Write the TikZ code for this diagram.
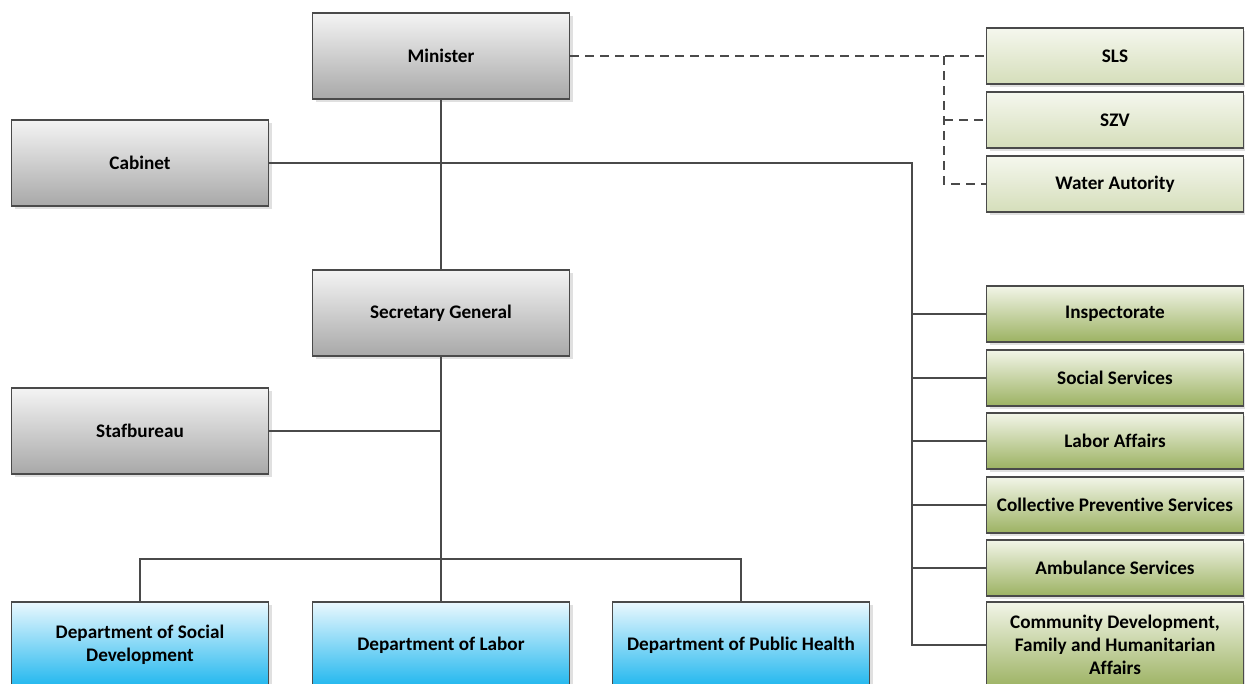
\documentclass[tikz,border=0pt]{standalone}
\usepackage{fontspec}
\setmainfont{Carlito}[Ligatures=NoCommon]
\usepackage{tikz}
\usetikzlibrary{shadows}
\definecolor{linegray}{HTML}{4A4A4A}
\definecolor{greytop}{HTML}{F4F4F4}
\definecolor{greybot}{HTML}{A8A8A8}
\definecolor{bluetop}{HTML}{EAF8FE}
\definecolor{bluebot}{HTML}{1EB6EE}
\definecolor{greentop}{HTML}{F2F5E8}
\definecolor{greenbot}{HTML}{9CB262}
\definecolor{palegreentop}{HTML}{F5F7EE}
\definecolor{palegreenbot}{HTML}{D5DEBA}

\begin{document}
\begin{tikzpicture}[x=1pt, y=-1pt,
    box/.style={draw=linegray, line width=1.3pt, minimum width=257pt, minimum height=86pt,
      align=center, font=\fontsize{19.2}{23}\selectfont\bfseries, inner sep=2pt,
      drop shadow={shadow xshift=3pt, shadow yshift=-3pt, fill=black!12, opacity=1}},
    greybox/.style={box, top color=greytop, bottom color=greybot},
    bluebox/.style={box, top color=bluetop, bottom color=bluebot},
    greenbox/.style={box, minimum height=56pt, top color=greentop, bottom color=greenbot},
    palebox/.style={box, minimum height=56pt, top color=palegreentop, bottom color=palegreenbot},
    conn/.style={draw=linegray, line width=1.3pt},
    dline/.style={conn, dash pattern=on 9pt off 6pt}]

    \path[use as bounding box, clip] (0,0) rectangle (1245,683);
    \fill[white] (0,0) rectangle (1245,683);

    \node[greybox] (min) at (441, 56) {Minister};
    \node[greybox] (cab) at (140, 163) {Cabinet};
    \node[greybox] (sg) at (441, 313) {Secretary General};
    \node[greybox] (staf) at (140, 431) {Stafbureau};

    \node[bluebox] (dsd) at (140, 645) {Department of Social\\Development};
    \node[bluebox] (dl) at (441, 645) {Department of Labor};
    \node[bluebox] (dph) at (741, 645) {Department of Public Health};

    \node[palebox] (sls) at (1115, 56) {SLS};
    \node[palebox] (szv) at (1115, 120) {SZV};
    \node[palebox] (wa) at (1115, 184) {Water Autority};

    \node[greenbox] (insp) at (1115, 314) {Inspectorate};
    \node[greenbox] (soc) at (1115, 378) {Social Services};
    \node[greenbox] (lab) at (1115, 441) {Labor Affairs};
    \node[greenbox] (cps) at (1115, 505) {Collective Preventive Services};
    \node[greenbox] (amb) at (1115, 568) {Ambulance Services};
    \node[greenbox, minimum height=86pt] (cdf) at (1115, 645) {Community Development,\\Family and Humanitarian\\Affairs};

    \coordinate (rt) at (912, 163);
    \coordinate (dt) at (944, 56);
    \coordinate (bh) at (441, 559);

    \draw[conn] (min.south) -- (sg.north);
    \draw[conn] (cab.east) -- (cab.east -| min.south) -- (rt) |- (cdf.west);
    \foreach \n in {insp, soc, lab, cps, amb}
      \draw[conn] (\n.west -| rt) -- (\n.west);

    \draw[dline] (min.east) -- (sls.west);
    \draw[dline] (dt) |- (wa.west);
    \draw[dline] (szv.west -| dt) -- (szv.west);

    \draw[conn] (sg.south) -- (dl.north);
    \draw[conn] (staf.east) -- (staf.east -| sg.south);
    \draw[conn] (dsd.north) |- (bh) -| (dph.north);
\end{tikzpicture}
\end{document}
